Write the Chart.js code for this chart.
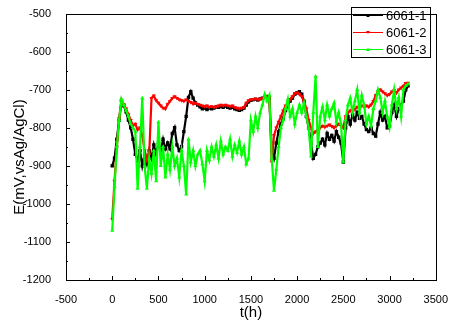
<!DOCTYPE html>
<html>
<head>
<meta charset="utf-8">
<script src="https://cdn.jsdelivr.net/npm/chart.js@4.4.1/dist/chart.umd.min.js"></script>
<style>
  html, body { margin: 0; padding: 0; background: #fff; }
  #wrap { width: 453px; height: 323px; position: relative; }
</style>
</head>
<body>
<div id="wrap"><canvas id="potChart"></canvas></div>
<script>
// time axis (h), one reading every 25 h
const times = [
  0, 25, 50, 75, 100, 125, 150, 175, 200, 225, 250, 275, 300, 325, 350, 375,
  400, 425, 450, 475, 500, 525, 550, 575, 600, 625, 650, 675, 700, 725, 750, 775,
  800, 825, 850, 875, 900, 925, 950, 975, 1000, 1025, 1050, 1075, 1100, 1125, 1150, 1175,
  1200, 1225, 1250, 1275, 1300, 1325, 1350, 1375, 1400, 1425, 1450, 1475, 1500, 1525, 1550, 1575,
  1600, 1625, 1650, 1675, 1700, 1725, 1750, 1775, 1800, 1825, 1850, 1875, 1900, 1925, 1950, 1975,
  2000, 2025, 2050, 2075, 2100, 2125, 2150, 2175, 2200, 2225, 2250, 2275, 2300, 2325, 2350, 2375,
  2400, 2425, 2450, 2475, 2500, 2525, 2550, 2575, 2600, 2625, 2650, 2675, 2700, 2725, 2750, 2775,
  2800, 2825, 2850, 2875, 2900, 2925, 2950, 2975, 3000, 3025, 3050, 3075, 3100, 3125, 3150, 3175,
  3200
];

// potential (mV vs Ag/AgCl)
const e6061_1 = [
  -900, -880, -830, -780, -730, -742, -758, -780, -800, -830, -870, -885, -860, -900, -870, -895,
  -860, -880, -845, -870, -840, -860, -830, -855, -840, -855, -815, -800, -845, -860, -850, -810,
  -770, -720, -705, -722, -735, -740, -745, -750, -748, -752, -748, -750, -748, -745, -746, -744,
  -746, -743, -746, -748, -746, -750, -752, -754, -752, -748, -740, -732, -728, -726, -725, -727,
  -724, -722, -720, -718, -722, -860, -880, -840, -810, -790, -775, -755, -740, -730, -722, -712,
  -708, -705, -712, -730, -770, -800, -840, -880, -870, -850, -840, -830, -845, -815, -830, -820,
  -835, -810, -825, -840, -890, -800, -770, -790, -765, -780, -760, -775, -770, -790, -805, -810,
  -800, -815, -822, -790, -760, -780, -770, -800, -795, -760, -740, -770, -750, -740, -730, -700,
  -690
];
const e6061_2 = [
  -1040, -940, -850, -775, -728, -738, -750, -765, -780, -795, -790, -805, -800, -820, -860, -885,
  -870, -722, -716, -728, -735, -742, -748, -750, -738, -730, -722, -718, -722, -726, -728, -730,
  -726, -730, -733, -737, -735, -738, -740, -742, -744, -742, -746, -744, -746, -744, -742, -740,
  -742, -740, -742, -744, -742, -746, -748, -750, -748, -746, -735, -728, -726, -725, -724, -726,
  -724, -722, -720, -718, -720, -890, -820, -800, -785, -770, -755, -742, -734, -725, -718, -710,
  -708, -712, -718, -730, -750, -780, -800, -815, -810, -805, -800, -795, -798, -795, -792, -796,
  -800, -795, -790, -795, -800, -770, -760, -755, -750, -752, -745, -748, -742, -745, -742, -745,
  -740, -730, -715, -705, -700, -705, -710, -715, -712, -705, -702, -708, -700, -695, -690, -683,
  -682
];
const e6061_3 = [
  -1070, -955, -850, -780, -725, -740, -755, -770, -790, -800, -810, -960, -850, -722, -900, -960,
  -880, -920, -860, -940, -785, -900, -850, -930, -870, -910, -850, -900, -880, -930, -860, -900,
  -975, -830, -890, -860, -900, -870, -860, -895, -940, -860, -885, -850, -875, -845, -880, -835,
  -870, -850, -860, -830, -875, -845, -865, -835, -870, -850, -895, -880, -780, -810, -770, -800,
  -760, -740, -712, -730, -715, -880, -965, -910, -850, -800, -780, -750, -725, -770, -750, -790,
  -760, -740, -760, -735, -770, -800, -875, -760, -665, -850, -770, -745, -780, -740, -770, -750,
  -735, -785, -760, -790, -890, -780, -740, -722, -760, -730, -700, -760, -715, -740, -790, -770,
  -795, -750, -730, -700, -720, -760, -730, -770, -798, -740, -700, -750, -720, -770, -700, -690,
  -685
];

const seriesNames = ['6061-1', '6061-2', '6061-3'];
const seriesColors = ['#000000', '#ff0000', '#00ff00'];
const xTicks = { min: -500, max: 3500, step: 500 };
const yTicks = { min: -1200, max: -500, step: 100 };

const toPoints = (vals) => vals.map((v, i) => ({ x: times[i], y: v }));

// frame, inward ticks, axis titles and the boxed legend
const framePlugin = {
  id: 'frame',
  afterDraw(chart) {
    const ctx = chart.ctx;
    const a = chart.chartArea;
    const xs = chart.scales.x, ys = chart.scales.y;
    ctx.save();
    ctx.strokeStyle = '#000';
    ctx.lineWidth = 1;
    ctx.strokeRect(Math.round(a.left) + 0.5, Math.round(a.top) + 0.5,
      Math.round(a.right - a.left), Math.round(a.bottom - a.top));

    ctx.beginPath();
    for (let v = xTicks.min; v <= xTicks.max; v += xTicks.step / 2) {
      const px = Math.round(xs.getPixelForValue(v)) + 0.5;
      const len = (v % xTicks.step === 0) ? 4 : 2;
      ctx.moveTo(px, a.bottom);
      ctx.lineTo(px, a.bottom - len);
    }
    for (let v = yTicks.min; v <= yTicks.max; v += yTicks.step / 2) {
      const py = Math.round(ys.getPixelForValue(v)) + 0.5;
      const len = (v % yTicks.step === 0) ? 4 : 2;
      ctx.moveTo(a.left, py);
      ctx.lineTo(a.left + len, py);
    }
    ctx.stroke();

    // axis titles
    ctx.fillStyle = '#000';
    ctx.font = '15px "Liberation Sans", Arial, sans-serif';
    ctx.textAlign = 'center';
    ctx.textBaseline = 'middle';
    ctx.fillText('t(h)', (a.left + a.right) / 2, 313);
    ctx.save();
    ctx.translate(20, 157);
    ctx.rotate(-Math.PI / 2);
    ctx.fillText('E(mV,vsAg/AgCl)', 0, 0);
    ctx.restore();

    // legend
    ctx.strokeRect(351.5, 7.5, 79, 50);
    ctx.font = '13px "Liberation Sans", Arial, sans-serif';
    ctx.textAlign = 'left';
    const rows = [15, 32, 49];
    seriesNames.forEach((name, i) => {
      const y = rows[i] + 0.5;
      ctx.strokeStyle = seriesColors[i];
      ctx.fillStyle = seriesColors[i];
      ctx.beginPath();
      ctx.moveTo(353, y);
      ctx.lineTo(383, y);
      ctx.stroke();
      ctx.beginPath();
      if (i === 0) {
        ctx.rect(366.5, y - 1.5, 3, 3);
      } else if (i === 1) {
        ctx.moveTo(366, y - 1.5); ctx.lineTo(370, y - 1.5); ctx.lineTo(368, y + 1.5);
      } else {
        ctx.moveTo(366, y + 1.5); ctx.lineTo(370, y + 1.5); ctx.lineTo(368, y - 2);
      }
      ctx.fill();
      ctx.fillStyle = '#000';
      ctx.fillText(name, 386, rows[i] + 1);
    });
    ctx.restore();
  }
};

const mkSet = (i, vals, style, rot, order) => ({
  label: seriesNames[i],
  data: toPoints(vals),
  borderColor: seriesColors[i],
  backgroundColor: seriesColors[i],
  borderWidth: 2.2,
  pointStyle: style,
  pointRotation: rot,
  pointRadius: 2.4,
  pointBorderWidth: 0,
  tension: 0,
  order: order
});

const plainTick = (v) => String(v);

new Chart(document.getElementById('potChart'), {
  type: 'line',
  data: {
    datasets: [
      mkSet(0, e6061_1, 'rect', 0, 3),
      mkSet(1, e6061_2, 'triangle', 180, 2),
      mkSet(2, e6061_3, 'triangle', 0, 1)
    ]
  },
  options: {
    responsive: true,
    maintainAspectRatio: false,
    animation: false,
    layout: { padding: { top: 5, right: 13, left: 0, bottom: 0 } },
    plugins: { legend: { display: false }, tooltip: { enabled: false } },
    scales: {
      x: {
        type: 'linear',
        min: xTicks.min, max: xTicks.max,
        grid: { display: false },
        border: { display: false },
        afterFit: (s) => { s.height = 43; },
        ticks: {
          stepSize: xTicks.step, padding: 5, color: '#000',
          font: { size: 11, family: '"Liberation Sans", Arial, sans-serif' },
          maxRotation: 0, autoSkip: false, callback: plainTick
        }
      },
      y: {
        type: 'linear',
        min: yTicks.min, max: yTicks.max,
        grid: { display: false },
        border: { display: false },
        afterFit: (s) => { s.width = 66; },
        ticks: {
          stepSize: yTicks.step, padding: 7, color: '#000',
          font: { size: 11, family: '"Liberation Sans", Arial, sans-serif' },
          callback: plainTick
        }
      }
    }
  },
  plugins: [framePlugin]
});
</script>
</body>
</html>
